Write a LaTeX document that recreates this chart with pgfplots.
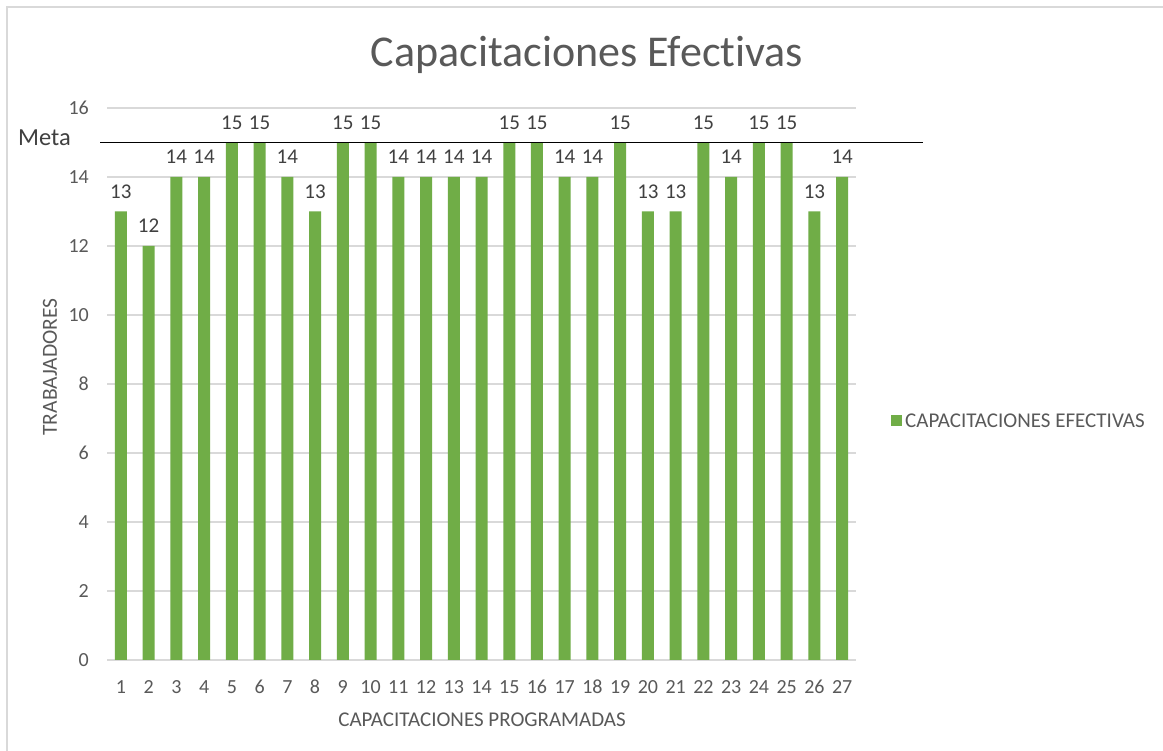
\documentclass[border=0pt]{standalone}
\usepackage{fontspec}
\setmainfont[RawFeature={-liga;-clig;-dlig}]{Carlito}
\usepackage{pgfplots}
\pgfplotsset{compat=1.18}
\definecolor{barg}{HTML}{70AD47}
\definecolor{gridc}{HTML}{D9D9D9}
\definecolor{txt}{HTML}{595959}
\definecolor{dtxt}{HTML}{404040}
\begin{document}
\begin{tikzpicture}[x=1bp,y=1bp]
\path[use as bounding box] (0,0) rectangle (1163,751);
\fill[white] (0,0) rectangle (1163,751);
\draw[gridc, line width=2bp] (7,0) -- (7,743.5) -- (1163,743.5);
\begin{axis}[at={(107bp,91bp)}, anchor=south west, scale only axis,
  width=749bp, height=552bp,
  ybar, bar width=12bp, xmin=0.5, xmax=27.5, ymin=0, ymax=16,
  ytick={0,2,...,16}, xtick={1,...,27},
  axis line style={draw=none}, major tick length=0pt,
  ymajorgrids, grid style={gridc, line width=1.2bp},
  tick label style={font=\fontsize{20bp}{23bp}\selectfont, text=txt},
  /pgf/number format/assume math mode=true,
  yticklabel style={inner sep=0pt, xshift=-18bp},
  xticklabel style={inner sep=0pt, anchor=north, yshift=-20bp},
  nodes near coords,
  every node near coord/.append style={font=\fontsize{21bp}{24bp}\selectfont, text=dtxt, inner sep=0pt, anchor=south, yshift=13bp},
  legend style={at={(axis description cs:1.0467,0.433)}, anchor=west, draw=none, fill=none, inner sep=0pt,
    font=\fontsize{21bp}{24bp}\selectfont, text=txt, nodes={inner sep=3bp}},
  legend image code/.code={\fill[barg] (0bp,-5.5bp) rectangle (11bp,5.5bp);},
  clip=false
]
\addplot[fill=barg, draw=none] coordinates {
(1,13) (2,12) (3,14) (4,14) (5,15) (6,15) (7,14) (8,13) (9,15) (10,15)
(11,14) (12,14) (13,14) (14,14) (15,15) (16,15) (17,14) (18,14) (19,15)
(20,13) (21,13) (22,15) (23,14) (24,15) (25,15) (26,13) (27,14)};
\addlegendentry{CAPACITACIONES EFECTIVAS}
\end{axis}
\draw[black, line width=1bp] (100,608.5) -- (923,608.5);
\node[anchor=base west, inner sep=0pt, text=dtxt, font=\fontsize{24.5bp}{28bp}\selectfont] at (18,605) {Meta};
\node[anchor=base, inner sep=0pt, text=txt, font=\fontsize{44bp}{52bp}\selectfont] at (587,684) {Capacitaciones Efectivas};
\node[rotate=90, inner sep=0pt, text=txt, font=\fontsize{21.5bp}{25bp}\selectfont] at (50,384) {TRABAJADORES};
\node[inner sep=0pt, text=txt, font=\fontsize{21bp}{25bp}\selectfont] at (482,31) {CAPACITACIONES PROGRAMADAS};
\end{tikzpicture}
\end{document}
